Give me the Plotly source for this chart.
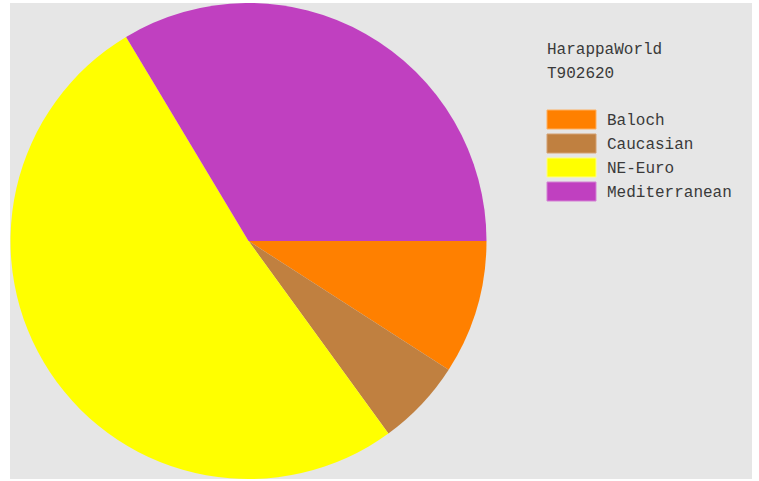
import plotly.graph_objects as go

W, H = 759, 481

title_lines = ["HarappaWorld", "T902620"]
labels = ["Baloch", "Caucasian", "NE-Euro", "Mediterranean"]
values = [9.1, 5.9, 51.4, 33.6]
colors = ["#ff8000", "#c08040", "#ffff00", "#c040c0"]
edge_colors = ["#ffb060", "#d4a070", "#ffff80", "#d480d4"]

def px_x(x):
    return x / W

def px_y(y):
    return 1 - y / H

fig = go.Figure()
fig.add_trace(go.Pie(
    labels=labels, values=values, sort=False, direction="clockwise",
    rotation=90, marker=dict(colors=colors, line=dict(width=0)),
    textinfo="none", hoverinfo="label+percent", showlegend=False,
    domain=dict(x=[px_x(10), px_x(487)], y=[px_y(479), px_y(3)]),
))

shapes = [dict(type="rect", xref="paper", yref="paper", layer="below",
               x0=px_x(10), x1=px_x(752), y0=px_y(479), y1=px_y(3),
               fillcolor="#e6e6e6", line=dict(width=0))]
annotations = []
font = dict(family="Liberation Mono", size=16, color="#3a3a3a")
for i, t in enumerate(title_lines):
    annotations.append(dict(text=t, xref="paper", yref="paper", x=px_x(545),
                            y=px_y(49.5 + 24 * i), xanchor="left", yanchor="middle",
                            showarrow=False, font=font))
for i, (lab, c, ec) in enumerate(zip(labels, colors, edge_colors)):
    yc = 119.5 + 24 * i
    shapes.append(dict(type="rect", xref="paper", yref="paper",
                       x0=px_x(547), x1=px_x(596), y0=px_y(yc + 9.5), y1=px_y(yc - 9.5),
                       fillcolor=c, line=dict(color=ec, width=1)))
    annotations.append(dict(text=lab, xref="paper", yref="paper", x=px_x(605),
                            y=px_y(yc + 1), xanchor="left", yanchor="middle",
                            showarrow=False, font=font))

fig.update_layout(width=W, height=H, margin=dict(l=0, r=0, t=0, b=0),
                  paper_bgcolor="white", plot_bgcolor="white",
                  shapes=shapes, annotations=annotations)
fig.write_html("out.html", config={"displayModeBar": False},
               post_script="document.body.style.margin='0';")
